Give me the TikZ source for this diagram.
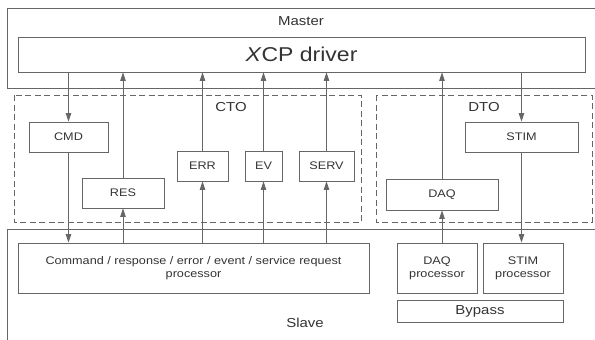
\documentclass[tikz,border=0pt]{standalone}
\usepackage{fontspec}
\setmainfont[FakeStretch=1.15]{Liberation Sans}
\usetikzlibrary{arrows.meta}
\definecolor{ln}{HTML}{666666}
\definecolor{tx}{HTML}{333333}
\tikzset{
  box/.style={draw=ln, line width=0.9pt, inner sep=0pt, text=tx, font=\fontsize{11}{13}\selectfont, align=center},
  grp/.style={draw=ln, line width=0.9pt, dashed, dash pattern=on 6pt off 3.5pt},
  arr/.style={draw=ln, line width=0.8pt, -{Triangle[length=8.5pt,width=5.5pt]}},
  lbl/.style={text=tx, font=\fontsize{13}{15}\selectfont, inner sep=0pt}
}
\begin{document}
\begin{tikzpicture}[x=1pt,y=-1pt]
\useasboundingbox (0,0) rectangle (595,340);
% Master frame
\draw[ln, line width=0.9pt] (595,8) -- (7,8) -- (7,88) -- (595,88);
\node[lbl] (master) at (301,21) {Master};
% Slave frame
\draw[ln, line width=0.9pt] (595,229) -- (7,229) -- (7,340);
\node[lbl] (slave) at (305,323) {Slave};
% Groups
\draw[grp] (14,95) rectangle (361,222);
\draw[grp] (376,95) rectangle (592,222);
\node[lbl] (cto) at (231,107) {CTO};
\node[lbl] (dto) at (484,107) {DTO};
% Driver
\node[box, minimum width=567pt, minimum height=35pt, font=\fontsize{20}{24}\selectfont] (xcp) at (301.5,54.5) {\textit{X}CP driver};
% CTO boxes
\node[box, minimum width=79pt, minimum height=30pt] (cmd) at (68.5,137) {CMD};
\node[box, minimum width=82pt, minimum height=30pt] (res) at (123,193) {RES};
\node[box, minimum width=51pt, minimum height=30pt] (err) at (202.5,166) {ERR};
\node[box, minimum width=37pt, minimum height=30pt] (ev) at (263.5,166) {EV};
\node[box, minimum width=55pt, minimum height=30pt] (serv) at (326.5,166) {SERV};
% DTO boxes
\node[box, minimum width=113pt, minimum height=30pt] (stim) at (521.5,137) {STIM};
\node[box, minimum width=112pt, minimum height=31pt] (daq) at (442,194.5) {DAQ};
% Slave boxes
\node[box, minimum width=351pt, minimum height=50pt] (proc) at (193.5,268) {Command / response / error / event / service request\\processor};
\node[box, minimum width=80pt, minimum height=50pt] (daqp) at (437,268) {DAQ\\processor};
\node[box, minimum width=80pt, minimum height=50pt] (stimp) at (523,268) {STIM\\processor};
\node[box, minimum width=166pt, minimum height=22pt, font=\fontsize{13}{15}\selectfont] (bypass) at (480,311) {Bypass};
% Arrows
\draw[arr] (xcp.south -| cmd.north) -- (cmd.north);
\draw[arr] (cmd.south) -- (proc.north -| cmd.south);
\draw[arr] (res.north) -- (xcp.south -| res.north);
\draw[arr] (proc.north -| res.south) -- (res.south);
\draw[arr] (err.north) -- (xcp.south -| err.north);
\draw[arr] (proc.north -| err.south) -- (err.south);
\draw[arr] (ev.north) -- (xcp.south -| ev.north);
\draw[arr] (proc.north -| ev.south) -- (ev.south);
\draw[arr] (serv.north) -- (xcp.south -| serv.north);
\draw[arr] (proc.north -| serv.south) -- (serv.south);
\draw[arr] (daq.north) -- (xcp.south -| daq.north);
\draw[arr] (daqp.north -| daq.south) -- (daq.south);
\draw[arr] (xcp.south -| stim.north) -- (stim.north);
\draw[arr] (stim.south) -- (stimp.north -| stim.south);
\end{tikzpicture}
\end{document}
